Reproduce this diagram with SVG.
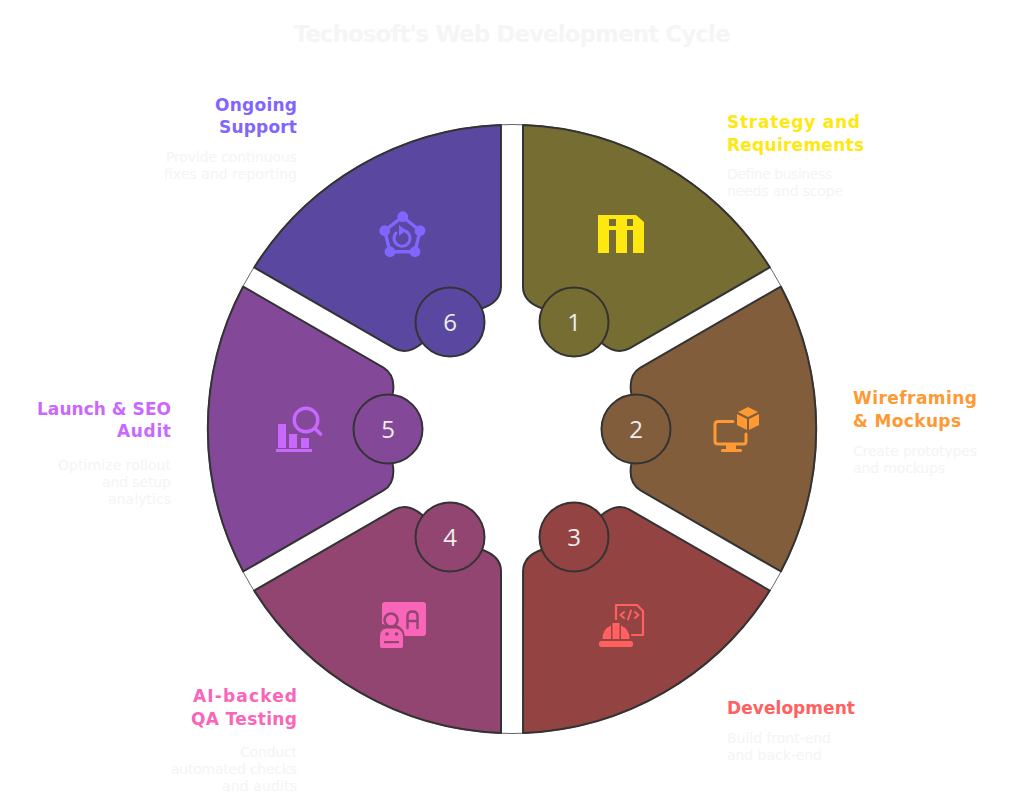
<svg xmlns="http://www.w3.org/2000/svg" width="1024" height="808" viewBox="0 0 1024 808">
<style>
text{font-family:"DejaVu Sans","Noto Sans",sans-serif}
.sec{stroke:#333;stroke-width:2;stroke-linejoin:round}
.num{stroke:#333;stroke-width:2}
.d{font-size:24px;fill:#eee;text-anchor:middle;font-family:"Open Sans","Noto Sans",sans-serif}
.h{font-size:17px;font-weight:700}
.t{font-size:14px;fill:#f4f4f4}
.e{text-anchor:end}
.title{font-size:23px;font-weight:700;fill:#f5f5f5;text-anchor:middle}
.ol{fill:none;stroke-linecap:round;stroke-linejoin:round}
</style>
<defs>
<path id="seg" d="M523,125A304.5,304.5 0 0 1 769.8,267.4L629.5,348.4C621,353 611,351 601.7,342.9A124,124 0 0 0 541.7,308.3C530,304 523,297 523,287Z"/>
</defs>
<rect width="1024" height="808" fill="#fff"/>
<text id="title" class="title" x="512" y="42" textLength="437" lengthAdjust="spacing">Techosoft's Web Development Cycle</text>
<g id="connectors"><circle cx="512" cy="429" r="304.5" fill="none" stroke="#666" stroke-width="1"/></g>

<g id="node-1">
<use href="#seg" class="sec" fill="#766d32"/>
<path fill="#ffe80f" d="M598,215H636L644,222V253H633V230H627V253H616V230H609V253H598Z"/>
<path fill="#766d32" d="M609,219H616V226H609ZM627,219H633V226H627Z"/>
<circle class="num" cx="574" cy="322" r="34.500" fill="#766d32"/>
<text class="d" x="574" y="331">1</text>
<text class="h" fill="#ffe80f" x="727" y="128" textLength="133">Strategy and</text>
<text class="h" fill="#ffe80f" x="727" y="151" textLength="137">Requirements</text>
<text class="t" x="727" y="179" textLength="105">Define business</text>
<text class="t" x="727" y="196" textLength="116">needs and scope</text>
</g>

<g id="node-2">
<use href="#seg" class="sec" fill="#815d3c" transform="rotate(60 512 429)"/>
<path class="ol" stroke="#ff9933" stroke-width="3" d="M733,421.500H718Q715,421.500 715,424.500V441Q715,444 718,444H744Q746,444 746,441V434"/>
<path fill="#ff9933" d="M726,445H736V449H741Q742,449 742,450.500T741,452H722Q721,452 721,450.500T722,449H726ZM748,407L758,412L748,417L738,412ZM737,414L747,419V430L737,425ZM749,419L759,414V425L749,430Z"/>
<circle class="num" cx="636" cy="429" r="34.500" fill="#815d3c"/>
<text class="d" x="636" y="438">2</text>
<text class="h" fill="#ff9933" x="853" y="404" textLength="124">Wireframing</text>
<text class="h" fill="#ff9933" x="853" y="427" textLength="108">&amp; Mockups</text>
<text class="t" x="853" y="456" textLength="124">Create prototypes</text>
<text class="t" x="853" y="473" textLength="92">and mockups</text>
</g>

<g id="node-3">
<use href="#seg" class="sec" fill="#944343" transform="rotate(120 512 429)"/>
<path class="ol" stroke="#ff6060" stroke-width="2.200" d="M616,619V605H637L643,611V635H632"/>
<path class="ol" stroke="#ff6060" stroke-width="2" d="M624,612L620.500,615L624,618M631,610.500L628,619.500M635,612L638.500,615L635,618"/>
<rect x="599" y="641" width="34" height="6" rx="2.500" fill="#ff6060"/>
<path fill="#ff6060" d="M602.500,639A13.500,13.500 0 0 1 611,625.500V639ZM612.500,639V623H619.500V639ZM621,625.500A13.500,13.500 0 0 1 629.500,639H621Z"/>
<circle class="num" cx="574" cy="537" r="34.500" fill="#944343"/>
<text class="d" x="574" y="546">3</text>
<text class="h" fill="#ff6060" x="727" y="714" textLength="128">Development</text>
<text class="t" x="727" y="743" textLength="104">Build front-end</text>
<text class="t" x="727" y="760" textLength="95">and back-end</text>
</g>

<g id="node-4">
<use href="#seg" class="sec" fill="#914570" transform="rotate(180 512 429)"/>
<rect x="382" y="602" width="44" height="34" rx="3" fill="#f865b9"/>
<path class="ol" stroke="#914570" stroke-width="2.400" d="M407.500,628V616Q407.500,611.500 412.500,611.500T417.500,616V628M407.500,621H417.500"/>
<path fill="#914570" d="M376,650V628Q380,622 385,625H397Q404,628 405,637V650Z"/>
<circle cx="391" cy="620" r="6.500" fill="#f865b9" stroke="#914570" stroke-width="2.600"/>
<path fill="#f865b9" d="M380,646V636Q380,630 386,628.500H396Q403,630 403,636V646Q403,648 401,648H382Q380,648 380,646Z"/>
<circle cx="387" cy="634" r="1.800" fill="#914570"/><circle cx="396.500" cy="634" r="1.800" fill="#914570"/>
<rect x="384" y="641" width="15" height="2.200" fill="#914570"/>
<circle class="num" cx="450" cy="537" r="34.500" fill="#914570"/>
<text class="d" x="450" y="546">4</text>
<text class="h e" fill="#f865b9" x="297" y="702" textLength="104">AI-backed</text>
<text class="h e" fill="#f865b9" x="297" y="725" textLength="106">QA Testing</text>
<text class="t e" x="297" y="757" textLength="57">Conduct</text>
<text class="t e" x="297" y="774" textLength="126">automated checks</text>
<text class="t e" x="297" y="791" textLength="75">and audits</text>
</g>

<g id="node-5">
<use href="#seg" class="sec" fill="#834897" transform="rotate(240 512 429)"/>
<path fill="#c968ff" d="M278,424H286V448H278ZM289,434H297V448H289ZM301,438H309V448H301ZM276,449H312V452H276Z"/>
<circle class="ol" cx="306" cy="420" r="11.800" stroke="#c968ff" stroke-width="3.400"/>
<path class="ol" stroke="#c968ff" stroke-width="3.600" d="M315,428.500L320.500,434"/>
<circle class="num" cx="388" cy="429" r="34.500" fill="#834897"/>
<text class="d" x="388" y="438">5</text>
<text class="h e" fill="#c968ff" x="171" y="415" textLength="134">Launch &amp; SEO</text>
<text class="h e" fill="#c968ff" x="171" y="437" textLength="54">Audit</text>
<text class="t e" x="171" y="470" textLength="113">Optimize rollout</text>
<text class="t e" x="171" y="487" textLength="69">and setup</text>
<text class="t e" x="171" y="504" textLength="63">analytics</text>
</g>

<g id="node-6">
<use href="#seg" class="sec" fill="#5a48a0" transform="rotate(300 512 429)"/>
<path class="ol" stroke="#8165ff" stroke-width="3.400" d="M402.700,216.700L420,230.700L415,251.700H390L384.700,230.700Z"/>
<g fill="#8165ff"><circle cx="402.700" cy="216.700" r="5.400"/><circle cx="420" cy="230.700" r="5.400"/><circle cx="415" cy="251.700" r="5.400"/><circle cx="390" cy="251.700" r="5.400"/><circle cx="384.700" cy="230.700" r="5.400"/></g>
<path class="ol" stroke="#8165ff" stroke-width="3" d="M404,230.500A8,8 0 1 1 396,233"/>
<path fill="#8165ff" d="M399,225L406,230.500L399,236Z"/>
<circle class="num" cx="450" cy="322" r="34.500" fill="#5a48a0"/>
<text class="d" x="450" y="331">6</text>
<text class="h e" fill="#8165ff" x="297" y="111" textLength="82">Ongoing</text>
<text class="h e" fill="#8165ff" x="297" y="133" textLength="78">Support</text>
<text class="t e" x="297" y="162" textLength="131">Provide continuous</text>
<text class="t e" x="297" y="179" textLength="133">fixes and reporting</text>
</g>
</svg>
